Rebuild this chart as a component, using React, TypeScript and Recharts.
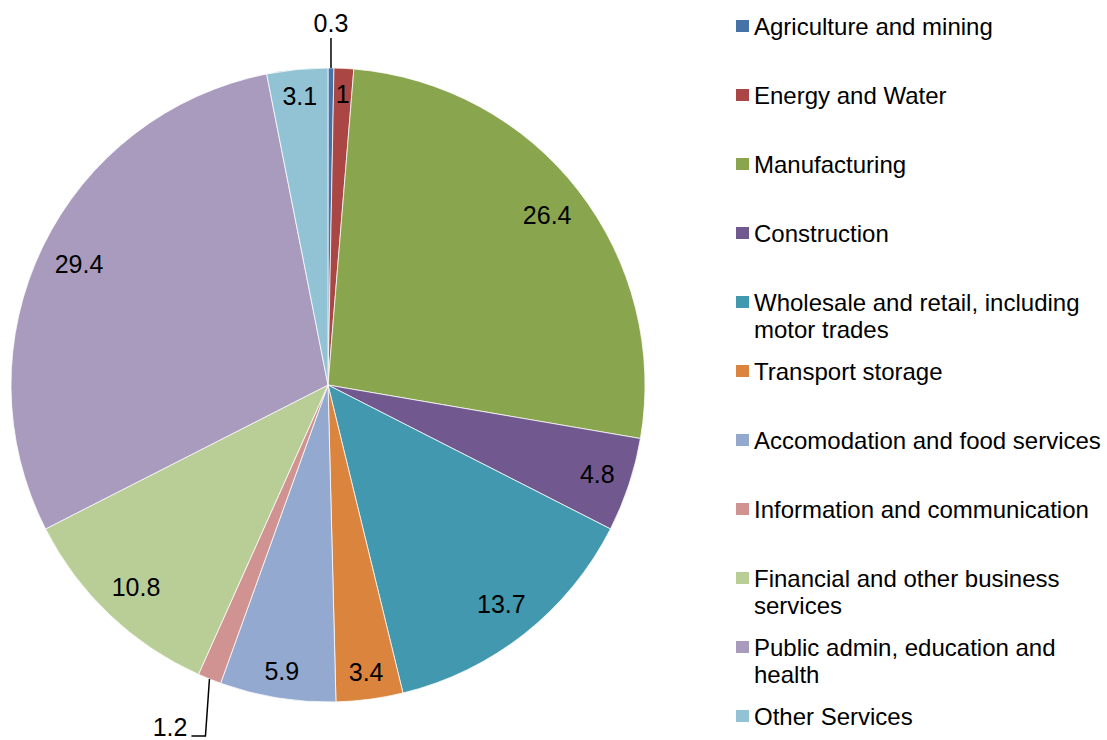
import { Cell, Legend, Pie, PieChart } from "recharts"

const sectors = [
  "Agriculture and mining",
  "Energy and Water",
  "Manufacturing",
  "Construction",
  "Wholesale and retail, including motor trades",
  "Transport storage",
  "Accomodation and food services",
  "Information and communication",
  "Financial and other business services",
  "Public admin, education and health",
  "Other Services",
]

const shares = [0.3, 1, 26.4, 4.8, 13.7, 3.4, 5.9, 1.2, 10.8, 29.4, 3.1]

const colors = [
  "#4572A7",
  "#AA4643",
  "#89A54E",
  "#71588F",
  "#4198AF",
  "#DB843D",
  "#93A9CF",
  "#D19392",
  "#B9CD96",
  "#A99BBD",
  "#92C3D4",
]

const data = sectors.map((name, i) => ({ name, value: shares[i] }))

const FONT = "'Liberation Sans', Arial, sans-serif"
const LABEL_SIZE = 25
const RAD = Math.PI / 180

// eslint-disable-next-line @typescript-eslint/no-explicit-any
function renderLabel(props: any) {
  const { cx, cy, midAngle, outerRadius, value, index } = props
  const text = String(value)
  const cos = Math.cos(-midAngle * RAD)
  const sin = Math.sin(-midAngle * RAD)
  const x0 = cx + outerRadius * cos
  const y0 = cy + outerRadius * sin
  const style = { fontFamily: FONT, fontSize: LABEL_SIZE, fill: "#000" }

  // tiny slices get a label outside with a leader line
  if (index === 0) {
    return (
      <g>
        <line x1={x0} y1={y0} x2={x0} y2={y0 - 30} stroke="#000" strokeWidth={1.5} />
        <text x={x0} y={y0 - 45} textAnchor="middle" dominantBaseline="central" style={style}>
          {text}
        </text>
      </g>
    )
  }
  if (index === 7) {
    return (
      <g>
        <polyline
          points={`${x0},${y0} ${x0 - 4},${y0 + 57} ${x0 - 18},${y0 + 57}`}
          fill="none"
          stroke="#000"
          strokeWidth={1.5}
        />
        <text x={x0 - 22} y={y0 + 48} textAnchor="end" dominantBaseline="central" style={style}>
          {text}
        </text>
      </g>
    )
  }

  // keep the text box just inside the rim
  let w = 0
  for (const ch of text) w += ch === "." ? 0.278 * LABEL_SIZE : 0.556 * LABEL_SIZE
  const proj = (w / 2) * Math.abs(cos) + 12 * Math.abs(sin)
  const r = outerRadius - 13 - proj
  return (
    <text
      x={cx + r * cos}
      y={cy + r * sin}
      textAnchor="middle"
      dominantBaseline="central"
      style={style}
    >
      {text}
    </text>
  )
}

// eslint-disable-next-line @typescript-eslint/no-explicit-any
function renderLegend(props: any) {
  const payload = props.payload || []
  return (
    <div style={{ position: "relative", width: 371, height: 740, fontFamily: FONT, fontSize: 24 }}>
      {sectors.map((name, i) => {
        const item = payload.find((p: { value: string }) => p.value === name)
        const color = item ? item.color : colors[i]
        return (
          <div key={name} style={{ position: "absolute", left: 0, top: 13 + 69 * i, width: 371 }}>
            <div
              style={{
                position: "absolute",
                left: 0,
                top: 7,
                width: 13,
                height: 12,
                background: color,
              }}
            />
            <div style={{ marginLeft: 18, width: 352, lineHeight: "27px", color: "#000" }}>{name}</div>
          </div>
        )
      })}
    </div>
  )
}

export default function App() {
  return (
    <div style={{ position: "absolute", left: 0, top: 0, width: 1107, height: 740, background: "#fff" }}>
      <PieChart width={1107} height={740} margin={{ top: 0, right: 0, bottom: 0, left: 0 }}>
        <Pie
          data={data}
          dataKey="value"
          nameKey="name"
          cx={328}
          cy={385}
          outerRadius={317}
          startAngle={90}
          endAngle={-270}
          stroke="#fff"
          strokeWidth={0.75}
          label={renderLabel}
          labelLine={false}
          isAnimationActive={false}
        >
          {data.map((d, i) => (
            <Cell key={d.name} fill={colors[i]} />
          ))}
        </Pie>
        <Legend
          content={renderLegend}
          wrapperStyle={{ position: "absolute", left: 736, top: 0, width: 371, height: 740 }}
        />
      </PieChart>
    </div>
  )
}
